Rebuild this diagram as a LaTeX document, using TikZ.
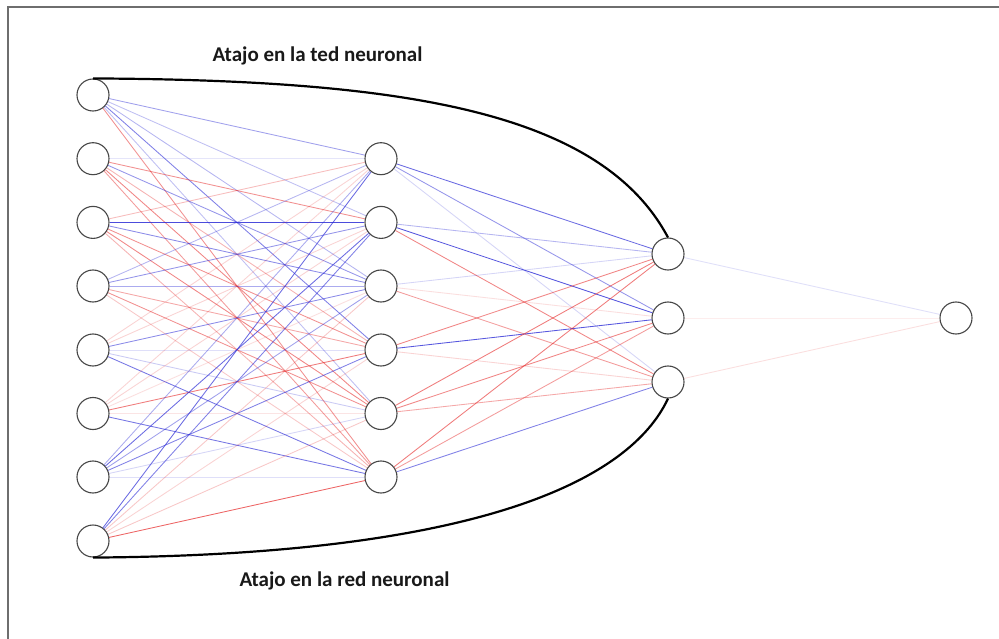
\documentclass[tikz,border=0pt]{standalone}
\usepackage{fontspec}
\setmainfont{Carlito}
\definecolor{wb}{RGB}{45,45,215}
\definecolor{wr}{RGB}{230,35,35}
\definecolor{framegray}{RGB}{110,110,110}
\begin{document}
\begin{tikzpicture}[x=1pt,y=-1pt,
  neuron/.style={circle,draw=black!72,line width=1.1pt,fill=white,minimum size=32pt,inner sep=0pt},
  shortcut/.style={draw=black,line width=2.2pt},
  wline/.style={line width=0.85pt},
  label/.style={font=\fontsize{21}{25}\selectfont\bfseries,anchor=base,text=black!90}]
\useasboundingbox (0,0) rectangle (999,639);
\fill[white] (0,0) rectangle (999,639);
\draw[framegray,line width=2pt] (999,7) -- (8,7) -- (8,639);
% input layer
\foreach \i/\y in {1/95,2/158.7,3/222.4,4/286,5/350,6/413.5,7/477,8/541}
  \node[neuron] (I\i) at (93,\y) {};
% hidden layer
\foreach \j/\y in {1/158.7,2/222.4,3/286,4/350,5/413.5,6/477}
  \node[neuron] (H\j) at (381,\y) {};
% third layer
\foreach \k/\y in {1/254,2/318,3/382}
  \node[neuron] (T\k) at (668,\y) {};
\node[neuron] (O) at (956,318) {};
% input -> hidden
\foreach \i/\j/\c/\o in {
 1/1/wb/.45, 1/2/wb/.3, 1/3/wb/.35, 1/4/wb/.6, 1/5/wb/.3, 1/6/wr/.5,
 2/1/wb/.12, 2/2/wr/.5, 2/3/wb/.5, 2/4/wr/.35, 2/5/wr/.55, 2/6/wr/.45,
 3/1/wr/.3, 3/2/wb/.85, 3/3/wb/.55, 3/4/wr/.5, 3/5/wr/.55, 3/6/wr/.35,
 4/1/wb/.35, 4/2/wb/.5, 4/3/wb/.4, 4/4/wr/.4, 4/5/wr/.5, 4/6/wr/.25,
 5/1/wr/.2, 5/2/wr/.2, 5/3/wb/.55, 5/4/wb/.15, 5/5/wb/.25, 5/6/wb/.65,
 6/1/wr/.2, 6/2/wr/.2, 6/3/wr/.15, 6/4/wr/.6, 6/5/wr/.12, 6/6/wb/.65,
 7/1/wb/.4, 7/2/wb/.7, 7/3/wb/.45, 7/4/wb/.6, 7/5/wb/.2, 7/6/wb/.15,
 8/1/wb/.7, 8/2/wb/.6, 8/3/wr/.25, 8/4/wr/.2, 8/5/wr/.25, 8/6/wr/.7}
  \draw[wline,draw=\c,draw opacity=\o] (I\i) -- (H\j);
% hidden -> third
\foreach \j/\k/\c/\o in {
 1/1/wb/.7, 1/2/wb/.5, 1/3/wb/.2,
 2/1/wb/.35, 2/2/wb/.8, 2/3/wr/.55,
 3/1/wb/.2, 3/2/wr/.15, 3/3/wr/.45,
 4/1/wr/.55, 4/2/wb/.8, 4/3/wr/.2,
 5/1/wr/.6, 5/2/wr/.55, 5/3/wr/.4,
 6/1/wr/.6, 6/2/wr/.45, 6/3/wb/.6}
  \draw[wline,draw=\c,draw opacity=\o] (H\j) -- (T\k);
% third -> output
\foreach \k/\c/\o in {1/wb/.15, 2/wr/.08, 3/wr/.15}
  \draw[wline,draw=\c,draw opacity=\o] (T\k) -- (O);
% shortcut curves
\draw[shortcut] (I1.north) .. controls (400,80) and (600,110) .. (T1.north);
\draw[shortcut] (I8.south) .. controls (480,555) and (630,480) .. (T3.south);
% labels
\node[label] (top) at (317.5,62) {Atajo en la ted neuronal};
\node[label] (bot) at (344.5,586) {Atajo en la red neuronal};
\end{tikzpicture}
\end{document}
